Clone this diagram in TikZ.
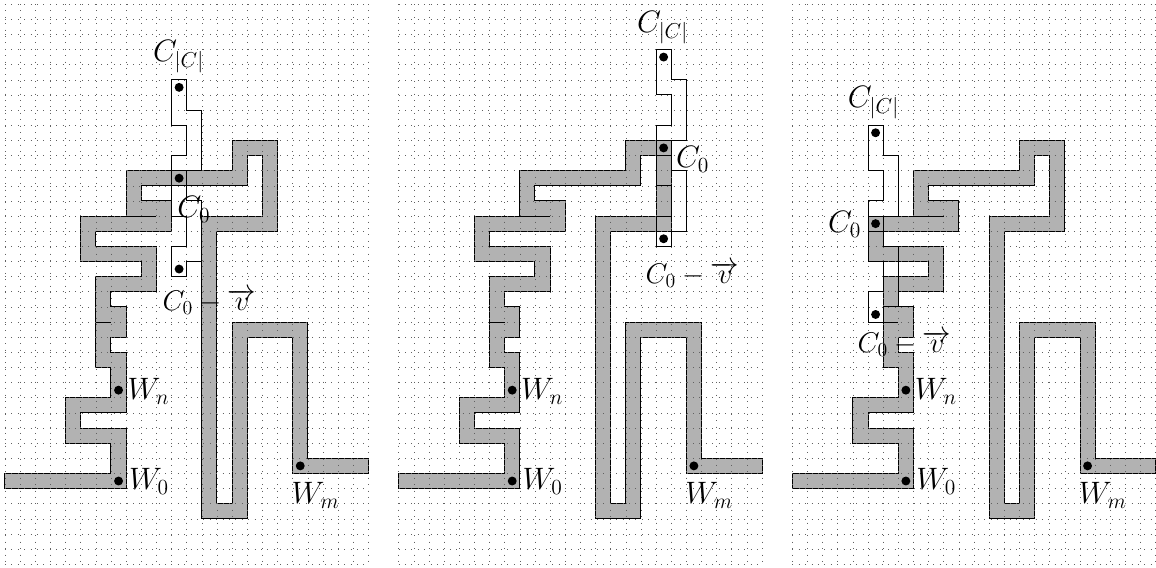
\documentclass[tikz,border=0pt]{standalone}
\tikzset{
  griddots/.style={line width=0.4pt,black!62,dash pattern=on 0.4pt off 4.4pt},
  wallshape/.style={fill=black!30,draw=black,line width=0.75pt,line join=miter},
  outl/.style={draw=black,line width=0.75pt,line join=miter},
  pointdot/.style={circle,fill=black,inner sep=0pt,minimum size=6.7pt},
  lab/.style={inner sep=0pt,font=\huge,scale=1.12},
  labwide/.style={inner sep=0pt,font=\huge,scale=1.03}
}
\newcommand{\drawpanel}[7]{%
\begin{scope}[shift={(#2,0)}]
  % W
  \path[wallshape] (0,0)--(8,0)--(8,4)--(5,4)--(5,5)--(8,5)--(8,9)--(7,9)--(7,10)--(8,10)--(8,12)--(7,12)--(7,13)--(10,13)--(10,16)--(6,16)--(6,17)--(11,17)--(11,19)--(9,19)--(9,20)--(16,20)--(16,22)--(17,22)--(17,18)--(13,18)--(13,-2)--(16,-2)--(16,10)--(19,10)--(19,1)--(24,1)--(24,2)--(20,2)--(20,11)--(15,11)--(15,-1)--(14,-1)--(14,17)--(18,17)--(18,23)--(15,23)--(15,21)--(8,21)--(8,18)--(5,18)--(5,15)--(9,15)--(9,14)--(6,14)--(6,8)--(7,8)--(7,6)--(4,6)--(4,3)--(7,3)--(7,1)--(0,1)--cycle;
  % dotted grid
  \foreach \i in {0,...,24} {\draw[griddots] (\i,32)--(\i,-5);}
  \foreach \j in {-5,...,32} {\draw[griddots] (0,\j)--(24,\j);}
  % interior strokes of W
  \draw[outl] (8,18)--(10,18);
  \draw[outl] (6,11)--(7,11);
  % C
  \begin{scope}[shift={(#3,#4)}]
    \draw[outl] (11,21)--(11,22)--(12,22)--(12,24)--(11,24)--(11,27)--(12,27)--(12,25)--(13,25)--(13,21)--(11,21)--(11,18)--(12,18)--(12,16)--(11,16)--(11,14)--(12,14)--(12,15)--(13,15)--(13,19)--(12,19)--(12,21);
    \draw[outl] (11,20)--(12,20);
    \node[pointdot] (#1top) at (11.5,26.5) {};
    \node[pointdot] (#1mid) at (11.5,20.5) {};
    \node[pointdot] (#1low) at (11.5,14.5) {};
  \end{scope}
  \node[pointdot] (#1wz) at (7.5,0.5) {};
  \node[pointdot] (#1wn) at (7.5,6.5) {};
  \node[pointdot] (#1wm) at (19.5,1.5) {};
  \node[lab] (#1lwn) at (9.48,6.43) {$W_n$};
  \node[lab] (#1lwz) at (9.51,0.47) {$W_0$};
  \node[lab] (#1lwm) at (20.51,-0.47) {$W_m$};
  \node[lab] (#1lcc) at (#5) {$C_{|C|}$};
  \node[lab] (#1lcz) at (#6) {$C_0$};
  \node[labwide] (#1lcv) at (#7) {$C_0-\overrightarrow{v}$};
\end{scope}}
\begin{document}
\begin{tikzpicture}[x=11.355pt,y=11.355pt]
  \useasboundingbox (-0.33,-5.185) rectangle (76.02,32.27);
  \drawpanel{a}{0}{0}{0}{11.46,28.53}{12.48,18.43}{13.51,12.35}
  \drawpanel{b}{26}{6}{2}{17.43,30.45}{19.41,21.73}{19.41,14.12}
  \drawpanel{c}{52}{-6}{-3}{5.36,25.49}{3.45,17.44}{7.41,9.55}
\end{tikzpicture}
\end{document}
